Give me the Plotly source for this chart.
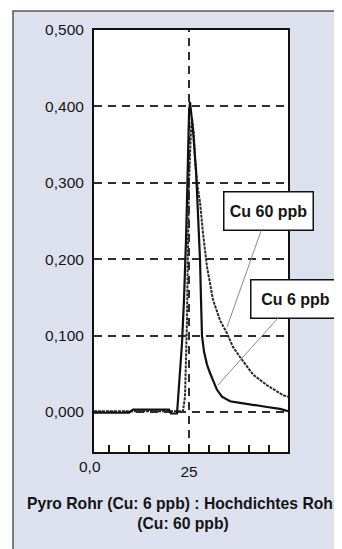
import plotly.graph_objects as go

# ---- data ----
x_cu6 = [1.25, 10, 11, 20, 20.5, 22, 22.25, 22.75, 23.25, 23.75, 24, 24.25, 24.5, 24.75, 25, 25.25,
         26, 26.75, 27.25, 27.75, 28, 28.25, 28.75, 29.5, 30.25, 31, 32, 33.25, 35.25, 37.75, 41, 44.5, 47.75, 49.75]
y_cu6 = [-0.001, -0.001, 0.003, 0.003, -0.002, -0.002, 0.016, 0.055, 0.09, 0.147, 0.177, 0.225, 0.277, 0.343, 0.39, 0.406,
         0.369, 0.317, 0.264, 0.2, 0.147, 0.10, 0.079, 0.062, 0.051, 0.042, 0.029, 0.02, 0.014, 0.012, 0.009, 0.0065, 0.004, 0.001]

x_cu60 = [1.25, 23.5, 24.0, 24.5, 24.75, 25.0, 25.5, 25.75, 26.25, 26.5, 27, 27.75, 28.5, 29.5, 31, 32.75,
          34.5, 36, 37.75, 41, 44.5, 48.5, 49.75]
y_cu60 = [0.001, 0.001, 0.02, 0.12, 0.22, 0.30, 0.37, 0.385, 0.36, 0.33, 0.30, 0.275, 0.234, 0.19, 0.147, 0.12,
          0.103, 0.085, 0.072, 0.049, 0.035, 0.022, 0.02]

y_ticks = [0.0, 0.1, 0.2, 0.3, 0.4, 0.5]
y_ticktext = ["0,000", "0,100", "0,200", "0,300", "0,400", "0,500"]
x_ticks = [5, 10, 15, 20, 25, 30, 35, 40, 45]
x_ticktext = ["", "", "", "", "25", "", "", "", ""]
x_zero_label = "0,0"
title_text = "Pyro Rohr (Cu: 6 ppb) : Hochdichtes Rohr<br>(Cu: 60 ppb)"
label_60 = "Cu 60 ppb"
label_6 = "Cu 6 ppb"

FONT = "Liberation Sans, Arial, sans-serif"
PANEL = "#dde1ee"
GRID = "#2e2e2e"
DASH = "8px,6px"
TXT = "#151515"

# page body has an 8px default margin: the figure is drawn 8px in from top-left
OFF = 8
W, H = 342 - OFF, 549 - OFF
L, R, T, B = 94 - OFF, 54, 30 - OFF, 97
pw, ph = W - L - R, H - T - B

def px2paper_x(px):
    return (px - OFF - L) / pw

def px2paper_y(py):
    return (H - B - (py - OFF)) / ph

fig = go.Figure()

fig.add_trace(go.Scatter(x=x_cu60, y=y_cu60, mode="lines", name=label_60,
                         line=dict(color="#2a2a2a", width=2, dash="3px,1px"),
                         showlegend=False))
fig.add_trace(go.Scatter(x=x_cu6, y=y_cu6, mode="lines", name=label_6,
                         line=dict(color="#111111", width=2.2),
                         showlegend=False))

shapes = [
    # outer lavender panel
    dict(type="rect", xref="paper", yref="paper", layer="below",
         x0=px2paper_x(13), x1=px2paper_x(380), y0=px2paper_y(600), y1=px2paper_y(11),
         fillcolor=PANEL, line=dict(color="#555555", width=1.5)),
    # white plot area
    dict(type="rect", xref="paper", yref="paper", layer="below",
         x0=0, x1=1, y0=0, y1=1, fillcolor="white", line=dict(width=0)),
    # vertical dashed line at 25
    dict(type="line", xref="x", yref="paper", layer="below",
         x0=25, x1=25, y0=0, y1=1, line=dict(color=GRID, width=2, dash=DASH)),
]

annotations = [
    dict(text=x_zero_label, xref="paper", yref="paper", x=px2paper_x(90), y=px2paper_y(466),
         xanchor="center", yanchor="middle", showarrow=False,
         font=dict(family=FONT, size=15.5, color=TXT)),
    dict(text=title_text, xref="paper", yref="paper", x=px2paper_x(183), y=px2paper_y(513),
         xanchor="center", yanchor="middle", showarrow=False, align="center",
         font=dict(family=FONT, size=15.7, color=TXT, weight="bold")),
    dict(text=f"<b>{label_60}</b>", xref="x", yref="y", x=34.5, y=0.111, ax=41, ay=-116,
         axref="pixel", ayref="pixel", showarrow=True, arrowhead=0, arrowwidth=1, arrowcolor="#8a8a8a",
         bgcolor="white", bordercolor="#111111", borderwidth=1.5, borderpad=1, width=86, height=35,
         font=dict(family=FONT, size=16, color=TXT)),
    dict(text=f"<b>{label_6}</b>", xref="x", yref="y", x=32.25, y=0.0353, ax=77, ay=-86,
         axref="pixel", ayref="pixel", showarrow=True, arrowhead=0, arrowwidth=1, arrowcolor="#8a8a8a",
         bgcolor="white", bordercolor="#111111", borderwidth=1.5, borderpad=1, width=86, height=35,
         font=dict(family=FONT, size=16, color=TXT)),
]

fig.update_layout(
    width=W, height=H,
    margin=dict(l=L, r=R, t=T, b=B, pad=0),
    paper_bgcolor="white", plot_bgcolor="white",
    shapes=shapes, annotations=annotations,
    showlegend=False,
    font=dict(family=FONT, size=15, color=TXT),
)

fig.update_xaxes(range=[1.25, 49.75], tickvals=x_ticks, ticktext=x_ticktext,
                 ticks="inside", ticklen=7, tickwidth=2, tickcolor="#111111",
                 showgrid=False, zeroline=False, showline=True, mirror=True,
                 linecolor="#111111", linewidth=2, ticklabelstandoff=4,
                 tickfont=dict(family=FONT, size=15.5, color=TXT))
fig.update_yaxes(range=[-0.0524, 0.5], tickvals=y_ticks, ticktext=y_ticktext,
                 ticks="", showgrid=True, gridcolor=GRID, gridwidth=2, griddash=DASH,
                 zeroline=False, showline=True, mirror=True,
                 linecolor="#111111", linewidth=2, ticklabelstandoff=5,
                 tickfont=dict(family=FONT, size=15.5, color=TXT))

fig.write_html("out.html")
